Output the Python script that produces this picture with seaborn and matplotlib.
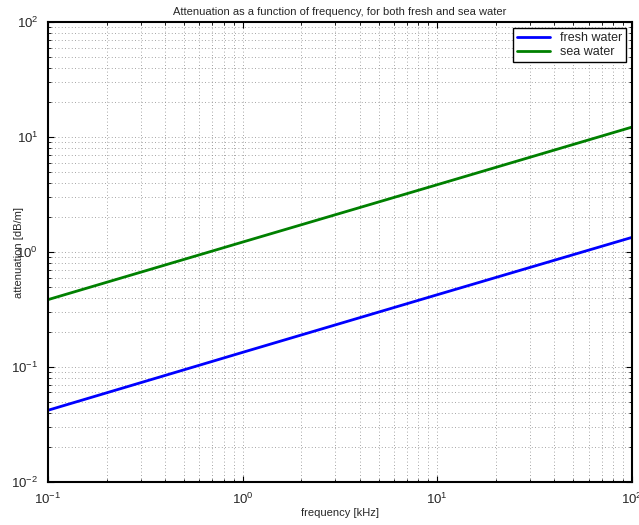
import numpy as np
import pandas as pd
import matplotlib
matplotlib.use('Agg')
import matplotlib.pyplot as plt
import matplotlib.ticker as ticker
import seaborn as sns

# values (log-log straight lines)
freq_khz = [0.1, 1.0, 10.0, 100.0]
fresh_db = [0.042, 0.134, 0.425, 1.34]
sea_db = [0.385, 1.22, 3.85, 12.2]
series_names = ['fresh water', 'sea water']

df = pd.DataFrame({
    'frequency': freq_khz * 2,
    'attenuation': fresh_db + sea_db,
    'water': [series_names[0]] * 4 + [series_names[1]] * 4,
})

sns.set_style('ticks')
plt.rcParams['font.family'] = ['Liberation Sans', 'DejaVu Sans']
plt.rcParams['mathtext.default'] = 'regular'

fig = plt.figure(figsize=(6.39, 5.25), dpi=100)
ax = fig.add_axes([0.075, 0.082, 0.914, 0.876])

sns.lineplot(data=df, x='frequency', y='attenuation', hue='water',
             palette=['#0000ff', '#008000'], linewidth=2, ax=ax)

ax.set_xscale('log')
ax.set_yscale('log')
ax.set_xlim(0.1, 100)
ax.set_ylim(0.01, 100)
ax.xaxis.set_major_formatter(ticker.LogFormatterMathtext())
ax.yaxis.set_major_formatter(ticker.LogFormatterMathtext())
ax.xaxis.set_minor_formatter(ticker.NullFormatter())

ax.grid(True, which='both', linestyle=(0, (1, 3)), color='#888888', linewidth=0.6)
ax.tick_params(which='both', direction='in', top=True, right=True,
               labelsize=9.5, color='black')
ax.tick_params(which='major', length=4, pad=7)
ax.tick_params(which='minor', length=2)
for s in ax.spines.values():
    s.set_color('black')
    s.set_linewidth(1.5)

ax.set_xlabel('frequency [kHz]', fontsize=8, labelpad=1)
ax.set_ylabel('attenuation [dB/m]', fontsize=8, labelpad=-9)
ax.set_title('Attenuation as a function of frequency, for both fresh and sea water',
             fontsize=8, pad=5)

leg = ax.legend(loc='upper right', fontsize=9, fancybox=False, framealpha=1,
                edgecolor='black', borderaxespad=0.5, handlelength=2.6,
                borderpad=0.3, labelspacing=0.15)
leg.get_frame().set_linewidth(1)

fig.savefig('out.png', dpi=100)
